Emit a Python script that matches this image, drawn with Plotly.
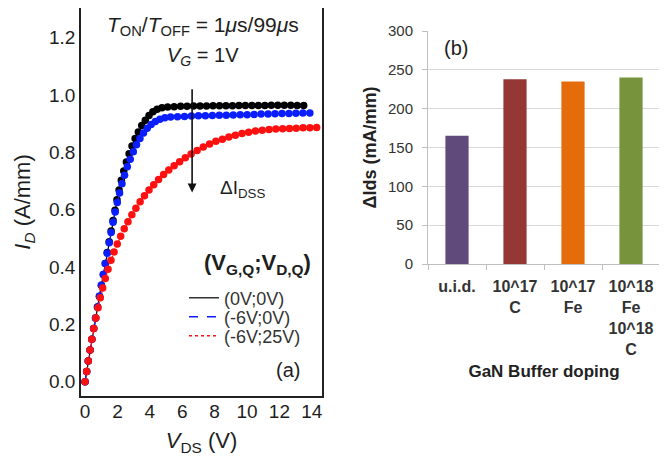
import plotly.graph_objects as go

# ---------------- Panel (a) data ----------------
vds_00 = [0.00, 0.10, 0.20, 0.31, 0.42, 0.53, 0.65, 0.77, 0.89, 1.01, 1.13, 1.25, 1.37, 1.49,
          1.61, 1.73, 1.85, 1.97, 2.10, 2.24, 2.39, 2.55, 2.72, 2.90, 3.09, 3.29, 3.50, 3.72,
          3.95, 4.19, 4.45, 4.75, 5.10, 5.50, 5.90, 6.30, 6.70, 7.10, 7.50, 7.90, 8.30, 8.70,
          9.10, 9.50, 9.90, 10.30, 10.70, 11.10, 11.50, 11.90, 12.30, 12.70, 13.10, 13.50]
id_00 = [0.000, 0.035, 0.072, 0.110, 0.148, 0.185, 0.222, 0.260, 0.298, 0.336, 0.374, 0.412, 0.450, 0.488,
         0.525, 0.562, 0.598, 0.634, 0.668, 0.702, 0.735, 0.766, 0.795, 0.822, 0.848, 0.871, 0.893, 0.912,
         0.928, 0.941, 0.950, 0.955, 0.958, 0.959, 0.960, 0.960, 0.961, 0.961, 0.961, 0.962, 0.962, 0.962,
         0.962, 0.963, 0.963, 0.963, 0.963, 0.963, 0.964, 0.964, 0.964, 0.964, 0.963, 0.963]

vds_60 = [0.00, 0.10, 0.20, 0.31, 0.42, 0.53, 0.65, 0.77, 0.89, 1.01, 1.13, 1.25, 1.37, 1.49,
          1.61, 1.73, 1.86, 1.99, 2.13, 2.28, 2.44, 2.61, 2.79, 2.98, 3.18, 3.39, 3.61, 3.84,
          4.08, 4.34, 4.62, 4.93, 5.28, 5.71, 6.14, 6.57, 7.00, 7.43, 7.86, 8.29, 8.72, 9.15,
          9.58, 10.01, 10.44, 10.87, 11.30, 11.73, 12.16, 12.59, 13.02, 13.45, 13.88]
id_60 = [0.000, 0.035, 0.072, 0.110, 0.148, 0.185, 0.222, 0.260, 0.298, 0.336, 0.374, 0.412, 0.448, 0.484,
         0.520, 0.556, 0.592, 0.625, 0.658, 0.690, 0.720, 0.749, 0.776, 0.802, 0.826, 0.848, 0.867, 0.884,
         0.897, 0.907, 0.915, 0.920, 0.923, 0.924, 0.925, 0.926, 0.927, 0.927, 0.928, 0.929, 0.929, 0.930,
         0.931, 0.931, 0.932, 0.933, 0.933, 0.934, 0.935, 0.935, 0.936, 0.937, 0.937]

vds_625 = [0.00, 0.10, 0.20, 0.31, 0.42, 0.54, 0.67, 0.80, 0.94, 1.09, 1.25, 1.42, 1.60, 1.79,
           1.99, 2.20, 2.42, 2.65, 2.89, 3.14, 3.40, 3.67, 3.95, 4.24, 4.54, 4.85, 5.17, 5.50,
           5.84, 6.19, 6.55, 6.92, 7.30, 7.69, 8.08, 8.48, 8.88, 9.28, 9.69, 10.10, 10.52, 10.94,
           11.36, 11.78, 12.20, 12.62, 13.04, 13.46, 13.88, 14.30]
id_625 = [0.000, 0.035, 0.072, 0.110, 0.148, 0.185, 0.222, 0.258, 0.293, 0.327, 0.360, 0.392, 0.423, 0.452,
          0.480, 0.507, 0.533, 0.558, 0.582, 0.605, 0.627, 0.648, 0.668, 0.687, 0.705, 0.722, 0.738, 0.753,
          0.767, 0.781, 0.794, 0.806, 0.818, 0.829, 0.838, 0.845, 0.853, 0.859, 0.865, 0.870, 0.874, 0.877,
          0.879, 0.881, 0.882, 0.883, 0.884, 0.885, 0.885, 0.886]

legend_names = ["(0V;0V)", "(-6V;0V)", "(-6V;25V)"]

# ---------------- Panel (b) data ----------------
doping = ["u.i.d.", "10^17<br>C", "10^17<br>Fe", "10^18<br>Fe<br>10^18<br>C"]
delta_ids = [165, 238, 235, 240]
bar_colors = ["#604A7B", "#953735", "#E46C0A", "#77933C"]

# the page body has an 8px margin: size the figure to fit the window
OFF = 8
W, H = 667 - OFF, 462 - OFF
def px(x):
    return (x - OFF) / W
def py(y):
    return 1 - (y - OFF) / H

FONT = "Liberation Sans, Arial, sans-serif"
TXT = "#1e1e1e"

fig = go.Figure()

series = [
    (vds_00, id_00, "#000000", "solid", "legend"),
    (vds_60, id_60, "#0a1eff", "dash", "legend2"),
    (vds_625, id_625, "#ff1010", "dot", "legend3"),
]
for (xv, yv, col, dash, lg), name in zip(series, legend_names):
    fig.add_trace(go.Scatter(
        x=xv, y=yv, mode="lines+markers", xaxis="x", yaxis="y",
        line=dict(color=col, width=1.2, dash=dash),
        marker=dict(color=col, size=7.5),
        showlegend=False, name=name))
for (xv, yv, col, dash, lg), name in zip(series, legend_names):
    fig.add_trace(go.Scatter(
        x=[None], y=[None], mode="lines", xaxis="x", yaxis="y",
        line=dict(color="#333333" if col == "#000000" else col, width=1.6, dash=dash),
        name=name, legend=lg, showlegend=True))

fig.add_trace(go.Bar(
    x=doping, y=delta_ids, xaxis="x2", yaxis="y2",
    marker=dict(color=bar_colors, line=dict(width=0)),
    showlegend=False))

leg_common = dict(xanchor="left", yanchor="middle", bgcolor="rgba(0,0,0,0)",
                  borderwidth=0, font=dict(family=FONT, size=18, color="#333"),
                  itemwidth=30, tracegroupgap=0)

fig.update_layout(
    width=W, height=H,
    margin=dict(l=0, r=0, t=0, b=0, autoexpand=False),
    paper_bgcolor="white", plot_bgcolor="white",
    font=dict(family=FONT, color=TXT),
    bargap=0.6,
    xaxis=dict(domain=[px(81), px(322)], range=[-0.25, 14.63], anchor="y", automargin=False,
               tickvals=[0, 2, 4, 6, 8, 10, 12, 14],
               showline=True, mirror=True, linecolor="#222", linewidth=1.5,
               showgrid=False, zeroline=False, ticks="",
               tickfont=dict(family=FONT, size=19, color=TXT),
               ticklabelstandoff=-3,
               title=dict(text="<i>V</i><sub>DS</sub> (V)", font=dict(family=FONT, size=22, color=TXT),
                          standoff=12)),
    yaxis=dict(domain=[py(396), py(8)], range=[-0.05, 1.303], anchor="x", automargin=False,
               tickvals=[0, 0.2, 0.4, 0.6, 0.8, 1.0, 1.2], tickformat=".1f",
               showline=True, mirror=True, linecolor="#222", linewidth=1.5,
               showgrid=False, zeroline=False, ticks="",
               tickfont=dict(family=FONT, size=19, color=TXT),
               title=dict(text="<i>I</i><sub><i>D</i></sub> (A/mm)", font=dict(family=FONT, size=22, color=TXT),
                          standoff=12)),
    xaxis2=dict(domain=[px(428), px(660)], anchor="y2", type="category", automargin=False,
                showline=True, linecolor="#bfbfbf", linewidth=1,
                ticks="outside", tickson="boundaries", ticklen=5, tickcolor="#bfbfbf",
                showgrid=False, zeroline=False,
                tickfont=dict(family=FONT, size=16, color="#333"),
                tickprefix="<b>", ticksuffix="</b>",
                ticklabelstandoff=8,
                title=dict(text="<b>GaN Buffer doping</b>", font=dict(family=FONT, size=17, color="#222"),
                           standoff=8)),
    yaxis2=dict(domain=[py(264), py(31)], range=[0, 300], anchor="x2", automargin=False,
                tickvals=[0, 50, 100, 150, 200, 250, 300],
                showline=True, linecolor="#bfbfbf", linewidth=1,
                ticks="outside", ticklen=5, tickcolor="#bfbfbf",
                showgrid=True, gridcolor="#d9d9d9", gridwidth=1, zeroline=False,
                tickfont=dict(family=FONT, size=15, color="#333"),
                tickprefix="<b>", ticksuffix="</b>",
                ticklabelstandoff=6,
                title=dict(text="<b>ΔIds (mA/mm)</b>", font=dict(family=FONT, size=18, color="#222"),
                           standoff=6)),
    legend=dict(x=px(184), y=py(298), **leg_common),
    legend2=dict(x=px(184), y=py(317), **leg_common),
    legend3=dict(x=px(184), y=py(336), **leg_common),
)

annots = [
    dict(text="<i>T</i><sub>ON</sub>/<i>T</i><sub>OFF</sub> = 1<i>μ</i>s/99<i>μ</i>s",
         x=px(203), y=py(26), size=21),
    dict(text="<i>V</i><sub><i>G</i></sub> = 1V", x=px(203), y=py(56), size=20),
    dict(text="ΔI<sub>DSS</sub>", x=px(242), y=py(189), size=19),
    dict(text="<b>(V<sub>G,Q</sub>;V<sub>D,Q</sub>)</b>", x=px(257), y=py(264), size=22),
    dict(text="(a)", x=px(288), y=py(370), size=20),
    dict(text="(b)", x=px(456), y=py(48), size=20),
]
for a in annots:
    fig.add_annotation(text=a["text"], x=a["x"], y=a["y"], xref="paper", yref="paper",
                       xanchor="center", yanchor="middle", showarrow=False,
                       font=dict(family=FONT, size=a["size"], color=TXT))

# arrow for Delta I_DSS
fig.add_annotation(x=6.61, y=0.66, ax=6.61, ay=1.025, xref="x", yref="y", axref="x", ayref="y",
                   text="", showarrow=True, arrowhead=2, arrowsize=1.1, arrowwidth=1.6,
                   arrowcolor="#111")

fig.write_html("out.html")
